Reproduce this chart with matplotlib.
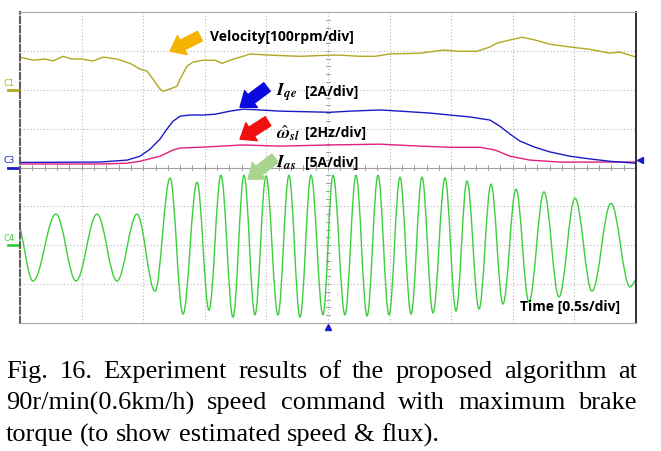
import numpy as np
import matplotlib
matplotlib.use("Agg")
import matplotlib.pyplot as plt
from matplotlib.path import Path
from matplotlib.patches import PathPatch, FancyArrowPatch

plt.rcParams['mathtext.fontset'] = 'stix'

# ----------------------------
# Trace data (time in s, 0.5 s/div; values in screen divisions)
# ----------------------------
vel_t = [0.00, 0.106, 0.203, 0.268, 0.349, 0.422, 0.503, 0.593, 0.674, 0.787, 0.893,
         0.974, 1.031, 1.080, 1.136, 1.161, 1.218, 1.274, 1.299, 1.356, 1.404, 1.485,
         1.583, 1.640, 1.705, 1.810, 1.867, 2.029, 2.273, 2.516, 2.597, 2.760, 2.881,
         3.003, 3.247, 3.433, 3.571, 3.709, 3.815, 3.872, 3.977, 4.075, 4.180, 4.302,
         4.464, 4.627, 4.789, 4.870, 5.000]
vel_v = [6.84, 6.76, 6.79, 6.74, 6.86, 6.79, 6.79, 6.74, 6.84, 6.79, 6.68,
         6.53, 6.48, 6.27, 6.02, 5.96, 6.02, 6.09, 6.27, 6.61, 6.71, 6.76,
         6.76, 6.68, 6.76, 6.86, 6.92, 6.89, 6.86, 6.89, 6.89, 6.86, 6.86,
         6.92, 6.94, 7.02, 6.99, 6.99, 7.10, 7.20, 7.28, 7.35, 7.28, 7.17,
         7.10, 7.04, 6.94, 6.97, 6.84]

iqe_t = [0.00, 0.649, 0.869, 0.974, 1.055, 1.136, 1.193, 1.242, 1.299, 1.380, 1.485,
         1.583, 1.705, 1.810, 1.948, 2.110, 2.516, 2.679, 2.922, 3.084, 3.328, 3.490,
         3.653, 3.815, 3.896, 3.977, 4.058, 4.180, 4.302, 4.464, 4.627, 4.789, 5.000]
iqe_v = [4.13, 4.14, 4.19, 4.29, 4.47, 4.73, 4.99, 5.19, 5.32, 5.35, 5.35,
         5.37, 5.45, 5.50, 5.48, 5.45, 5.42, 5.45, 5.48, 5.45, 5.40, 5.35,
         5.30, 5.22, 5.06, 4.86, 4.68, 4.52, 4.40, 4.29, 4.22, 4.16, 4.11]

wsl_t = [0.00, 0.649, 0.869, 0.974, 1.136, 1.242, 1.299, 1.461, 1.810, 2.110, 2.516,
         2.922, 3.247, 3.490, 3.734, 3.856, 3.977, 4.140, 4.383, 5.000]
wsl_v = [4.09, 4.09, 4.11, 4.16, 4.29, 4.45, 4.50, 4.52, 4.58, 4.55, 4.58,
         4.60, 4.55, 4.52, 4.52, 4.45, 4.29, 4.19, 4.14, 4.14]

# phase current: start, successive troughs / peaks, end
ias_t = [0.000, 0.106, 0.292, 0.455, 0.625, 0.787, 0.950, 1.096, 1.218, 1.323, 1.437,
         1.534, 1.631, 1.729, 1.818, 1.907, 1.997, 2.094, 2.183, 2.273, 2.362, 2.459,
         2.541, 2.638, 2.727, 2.817, 2.906, 2.995, 3.084, 3.174, 3.263, 3.352, 3.450,
         3.539, 3.628, 3.726, 3.823, 3.920, 4.026, 4.131, 4.253, 4.375, 4.505, 4.643,
         4.797, 4.951, 5.000]
ias_v = [2.47, 1.08, 2.80, 1.08, 2.80, 1.08, 2.80, 0.82, 3.73, 0.23, 3.62,
         0.33, 3.80, 0.15, 3.80, 0.21, 3.78, 0.21, 3.80, 0.15, 3.80, 0.21,
         3.80, 0.21, 3.80, 0.18, 3.80, 0.21, 3.75, 0.23, 3.75, 0.26, 3.73,
         0.31, 3.65, 0.36, 3.57, 0.49, 3.44, 0.54, 3.37, 0.67, 3.21, 0.82,
         3.08, 0.93, 1.13]

caption = ["Fig. 16. Experiment results of the proposed algorithm at",
           "90r/min(0.6km/h) speed command with maximum brake",
           "torque (to show estimated speed & flux)."]

# ----------------------------
# Figure & scope screen
# ----------------------------
W, H = 661, 452
fig = plt.figure(figsize=(W / 100, H / 100), dpi=100)
ax = fig.add_axes([20 / W, (H - 324) / H, 616 / W, 311 / H])
ax.set_xlim(0, 5)
ax.set_ylim(0, 8)
ax.set_xticks([])
ax.set_yticks([])

grid_kw = dict(color='#b8b8b8', lw=0.8, ls=(0, (1, 2)), zorder=0)
for gx in np.arange(0.5, 5, 0.5):
    ax.axvline(gx, **grid_kw)
for gy in range(1, 8):
    ax.axhline(gy, **grid_kw)

# centre axes with small tick marks
ax.axhline(4, color='#a0a0a0', lw=0.8, zorder=0)
for tx in np.arange(0.1, 5, 0.1):
    ax.plot([tx, tx], [3.93, 4.07], color='#a0a0a0', lw=0.7, zorder=0)
for ty in np.arange(0.2, 8, 0.2):
    ax.plot([2.485, 2.515], [ty, ty], color='#a0a0a0', lw=0.7, zorder=0)

ax.spines['left'].set_color('#606060')
ax.spines['left'].set_linewidth(1.5)
ax.spines['left'].set_linestyle((0, (3, 1.5)))
ax.spines['right'].set_color('#202020')
ax.spines['right'].set_linewidth(1.3)
ax.spines['top'].set_color('#a8a8a8')
ax.spines['bottom'].set_color('#a8a8a8')

# ----------------------------
# Traces
# ----------------------------
ax.plot(vel_t, vel_v, color='#b0a820', lw=1.0)
ax.plot(wsl_t, wsl_v, color='#e0207a', lw=1.0)
ax.plot(iqe_t, iqe_v, color='#1a1ac8', lw=1.0)

# smooth current wave: half-cosine-like cubic segments between extrema
k = 0.363
verts = [(ias_t[0], ias_v[0])]
codes = [Path.MOVETO]
n = len(ias_t)
for i in range(n - 1):
    x0, y0, x1, y1 = ias_t[i], ias_v[i], ias_t[i + 1], ias_v[i + 1]
    dx = x1 - x0
    c1 = (x0 + k * dx, y0) if i > 0 else (x0 + dx / 3, y0 + (y1 - y0) / 3)
    c2 = (x1 - k * dx, y1) if i < n - 2 else (x1 - dx / 3, y1 - (y1 - y0) / 3)
    verts += [c1, c2, (x1, y1)]
    codes += [Path.CURVE4] * 3
ax.add_patch(PathPatch(Path(verts, codes), fill=False, edgecolor='#3ccf3c', lw=1.0))

# ----------------------------
# Channel markers
# ----------------------------
for lvl, lab, col in [(6, 'C1', '#b0a820'), (4, 'C3', '#1a1ac8'), (2, 'C4', '#3ccf3c')]:
    ax.plot([-0.1, -0.01], [lvl, lvl], color=col, lw=2, clip_on=False)
    ax.text(-0.085, lvl + 0.08, lab, color=col, fontsize=6, ha='center', va='bottom',
            clip_on=False)
ax.plot([5.035], [4.19], marker='<', color='#1a1ac8', ms=5, clip_on=False)
ax.plot([2.5], [-0.1], marker='^', color='#1a1ac8', ms=5, clip_on=False)

# ----------------------------
# Labels & arrows
# ----------------------------
arrows = [((1.461, 7.38), (1.218, 6.99), '#f5b400'),
          ((2.005, 6.07), (1.786, 5.55), '#0a0ae0'),
          ((2.013, 5.19), (1.786, 4.73), '#f01010'),
          ((2.070, 4.24), (1.851, 3.70), '#a8d490')]
for tail, tip, col in arrows:
    ax.add_patch(FancyArrowPatch(tail, tip, mutation_scale=9, color=col,
                                 arrowstyle='simple,head_length=1.1,head_width=1.7,tail_width=0.85',
                                 shrinkA=0, shrinkB=0, clip_on=False, zorder=5))

lab_kw = dict(fontsize=10, fontweight='bold', family='Open Sans', va='center')
math_kw = dict(fontsize=13, va='center')
ax.text(1.542, 7.38, 'Velocity[100rpm/div]', **lab_kw)
ax.text(2.078, 5.96, r'$\mathbfit{I}_{\mathbfit{qe}}$', **math_kw)
ax.text(2.313, 5.96, '[2A/div]', **lab_kw)
ax.text(2.078, 4.91, r'$\hat{\mathbfit{\omega}}_{\mathbfit{sl}}$', **math_kw)
ax.text(2.313, 4.91, '[2Hz/div]', **lab_kw)
ax.text(2.078, 4.15, r'$\mathbfit{I}_{\mathbfit{as}}$', **math_kw)
ax.text(2.313, 4.15, '[5A/div]', **lab_kw)
ax.text(4.058, 0.44, 'Time [0.5s/div]', **lab_kw)

# ----------------------------
# Caption (justified first two lines)
# ----------------------------
renderer = fig.canvas.get_renderer()
cap_kw = dict(fontsize=19, family='Liberation Serif', va='center', ha='left')
left, right = 6, 637
for li, (line, yc) in enumerate(zip(caption, [372, 403, 435])):
    words = line.split(' ')
    texts = [fig.text(0, 1 - yc / H, w_, **cap_kw) for w_ in words]
    widths = [t.get_window_extent(renderer).width for t in texts]
    if li < len(caption) - 1:
        gap = (right - left - sum(widths)) / (len(words) - 1)
    else:
        sp = fig.text(0, 0, ' ', **cap_kw)
        gap = sp.get_window_extent(renderer).width
        sp.remove()
    x = left
    for t, wd in zip(texts, widths):
        t.set_x(x / W)
        x += wd + gap

fig.savefig('out.png', dpi=100)
